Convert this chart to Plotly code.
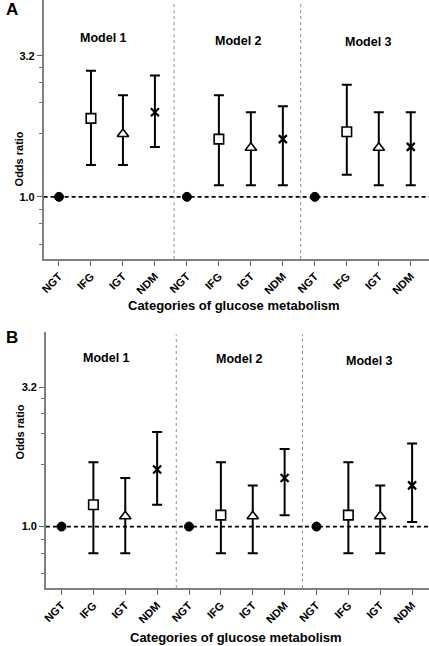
import plotly.graph_objects as go

# ---------------- data ----------------
categories = ["NGT", "IFG", "IGT", "NDM"]
models = ["Model 1", "Model 2", "Model 3"]

# Panel A: odds ratio, lower CI, upper CI per model (order NGT, IFG, IGT, NDM)
A_or = [[1.0, 1.91, 1.68, 2.01], [1.0, 1.61, 1.50, 1.61], [1.0, 1.71, 1.50, 1.51]]
A_lo = [[1.0, 1.30, 1.30, 1.51], [1.0, 1.10, 1.10, 1.10], [1.0, 1.20, 1.10, 1.10]]
A_hi = [[1.0, 2.83, 2.31, 2.72], [1.0, 2.31, 2.01, 2.11], [1.0, 2.52, 2.01, 2.01]]

# Panel B
B_or = [[1.0, 1.20, 1.09, 1.61], [1.0, 1.10, 1.09, 1.50], [1.0, 1.10, 1.09, 1.41]]
B_lo = [[1.0, 0.80, 0.80, 1.20], [1.0, 0.80, 0.80, 1.10], [1.0, 0.80, 0.80, 1.04]]
B_hi = [[1.0, 1.71, 1.50, 2.20], [1.0, 1.71, 1.41, 1.91], [1.0, 1.71, 1.41, 2.00]]

y_major = [1.0, 3.2]
y_major_text = ["1.0", "3.2"]
y_minor = [0.675, 0.8, 0.9, 1.68, 2.17, 2.56, 2.9]

# ---------------- styling ----------------
FONT = "Liberation Sans, Arial, sans-serif"
W, H = 429, 646
symbols = {
    "NGT": dict(symbol="circle", size=9, color="black", line=dict(color="black", width=1)),
    "IFG": dict(symbol="square", size=9.5, color="white", line=dict(color="black", width=1.6)),
    "IGT": dict(symbol="triangle-up", size=10, color="white", line=dict(color="black", width=1.6)),
    "NDM": dict(symbol="x-thin", size=8, color="black", line=dict(color="black", width=2.2)),
}

fig = go.Figure()

panels = [
    dict(name="A", orv=A_or, lo=A_lo, hi=A_hi, xa="x", ya="y",
         xdom=[40 / W, 1.0], ydom=[1 - 259 / H, 1.0], xr=[-0.48, 11.57]),
    dict(name="B", orv=B_or, lo=B_lo, hi=B_hi, xa="x2", ya="y2",
         xdom=[42.3 / W, 1.0], ydom=[1 - 588 / H, 1 - 332 / H], xr=[-0.49, 11.53]),
]

xpos = [g * 4 + i for g in range(len(models)) for i in range(len(categories))]
xtext = [c for g in range(len(models)) for c in categories]

for p in panels:
    for ci, cat in enumerate(categories):
        xs = [g * 4 + ci for g in range(len(models))]
        ys = [p["orv"][g][ci] for g in range(len(models))]
        up = [p["hi"][g][ci] - p["orv"][g][ci] for g in range(len(models))]
        dn = [p["orv"][g][ci] - p["lo"][g][ci] for g in range(len(models))]
        fig.add_trace(go.Scatter(
            x=xs, y=ys, mode="markers", xaxis=p["xa"], yaxis=p["ya"],
            marker=symbols[cat], showlegend=False, name=cat,
            error_y=dict(type="data", symmetric=False, array=up, arrayminus=dn,
                         visible=(cat != "NGT"), color="black", thickness=2, width=5),
        ))

axis_common_x = dict(
    tickmode="array", tickvals=xpos, ticktext=xtext, tickangle=-45,
    ticks="outside", ticklen=5, tickwidth=1.2, tickcolor="#606060",
    showline=True, linecolor="#808080", linewidth=1.5, showgrid=False, zeroline=False,
    tickfont=dict(family=FONT, size=11, color="black", weight="bold"),
)
axis_common_y = dict(
    type="log", range=[-0.2225, 0.705],
    tickmode="array", tickvals=y_major, ticktext=y_major_text,
    ticks="outside", ticklen=5, tickwidth=1.2, tickcolor="#606060",
    minor=dict(tickmode="array", tickvals=y_minor, ticks="outside", ticklen=3,
               tickwidth=1, tickcolor="#707070", showgrid=False),
    showline=True, linecolor="#808080", linewidth=1.5, showgrid=False, zeroline=False,
    tickfont=dict(family=FONT, size=11, color="black", weight="bold"),
)

layout = dict(width=W, height=H, margin=dict(l=0, r=0, t=0, b=0),
              paper_bgcolor="white", plot_bgcolor="white",
              font=dict(family=FONT, color="black"))
fig.update_layout(**layout)

fig.update_layout(
    xaxis=dict(axis_common_x, domain=panels[0]["xdom"], range=panels[0]["xr"], anchor="y"),
    yaxis=dict(axis_common_y, domain=panels[0]["ydom"], anchor="x"),
    xaxis2=dict(axis_common_x, domain=panels[1]["xdom"], range=panels[1]["xr"], anchor="y2"),
    yaxis2=dict(axis_common_y, domain=panels[1]["ydom"], anchor="x2"),
)

shapes = []
annotations = []
model_label_y = {"A": [38, 41, 42], "B": [358, 359, 361]}
model_label_x = {"A": [100, 237, 368], "B": [103, 238, 369]}
sep_x = [3.6, 7.56]
for p in panels:
    xa, ya = p["xa"], p["ya"]
    # dashed reference line at OR = 1
    shapes.append(dict(type="line", xref=f"{xa} domain", yref=ya, x0=0, x1=1, y0=1.0, y1=1.0,
                       line=dict(color="black", width=1.6, dash="4px,3px"), layer="below"))
    for sx in sep_x:
        shapes.append(dict(type="line", xref=xa, yref=f"{ya} domain", x0=sx, x1=sx, y0=0, y1=0.99,
                           line=dict(color="#909090", width=1, dash="dot"), layer="below"))
    for m, mx, my in zip(models, model_label_x[p["name"]], model_label_y[p["name"]]):
        annotations.append(dict(text=f"<b>{m}</b>", xref="paper", yref="paper",
                                x=mx / W, y=1 - my / H, showarrow=False,
                                font=dict(family=FONT, size=12.5, color="black"),
                                xanchor="center", yanchor="middle"))
    # panel letter
    annotations.append(dict(text=f"<b>{p['name']}</b>", xref="paper", yref="paper",
                            x=0, y=1 - 9 / H if p["name"] == "A" else 1 - 337 / H,
                            showarrow=False, font=dict(family=FONT, size=17, color="black"),
                            xanchor="left", yanchor="middle"))

# axis titles
annotations.append(dict(text="<b>Categories of glucose metabolism</b>", xref="paper", yref="paper",
                        x=232 / W, y=1 - 305 / H, showarrow=False,
                        font=dict(family=FONT, size=13, color="black")))
annotations.append(dict(text="<b>Categories of glucose metabolism</b>", xref="paper", yref="paper",
                        x=234 / W, y=0, yanchor="bottom", yshift=-1, showarrow=False,
                        font=dict(family=FONT, size=13, color="black")))
annotations.append(dict(text="<b>Odds ratio</b>", xref="paper", yref="paper",
                        x=8 / W, y=1 - 129 / H, showarrow=False, textangle=-90,
                        font=dict(family=FONT, size=11, color="black")))
annotations.append(dict(text="<b>Odds ratio</b>", xref="paper", yref="paper",
                        x=8 / W, y=1 - 461 / H, showarrow=False, textangle=-90,
                        font=dict(family=FONT, size=11, color="black")))

fig.update_layout(shapes=shapes, annotations=annotations)
fig.write_html(
    "out.html",
    config={"displayModeBar": False},
    post_script="document.body.style.margin='0';document.body.style.padding='0';"
                "document.body.style.overflow='hidden';",
)
